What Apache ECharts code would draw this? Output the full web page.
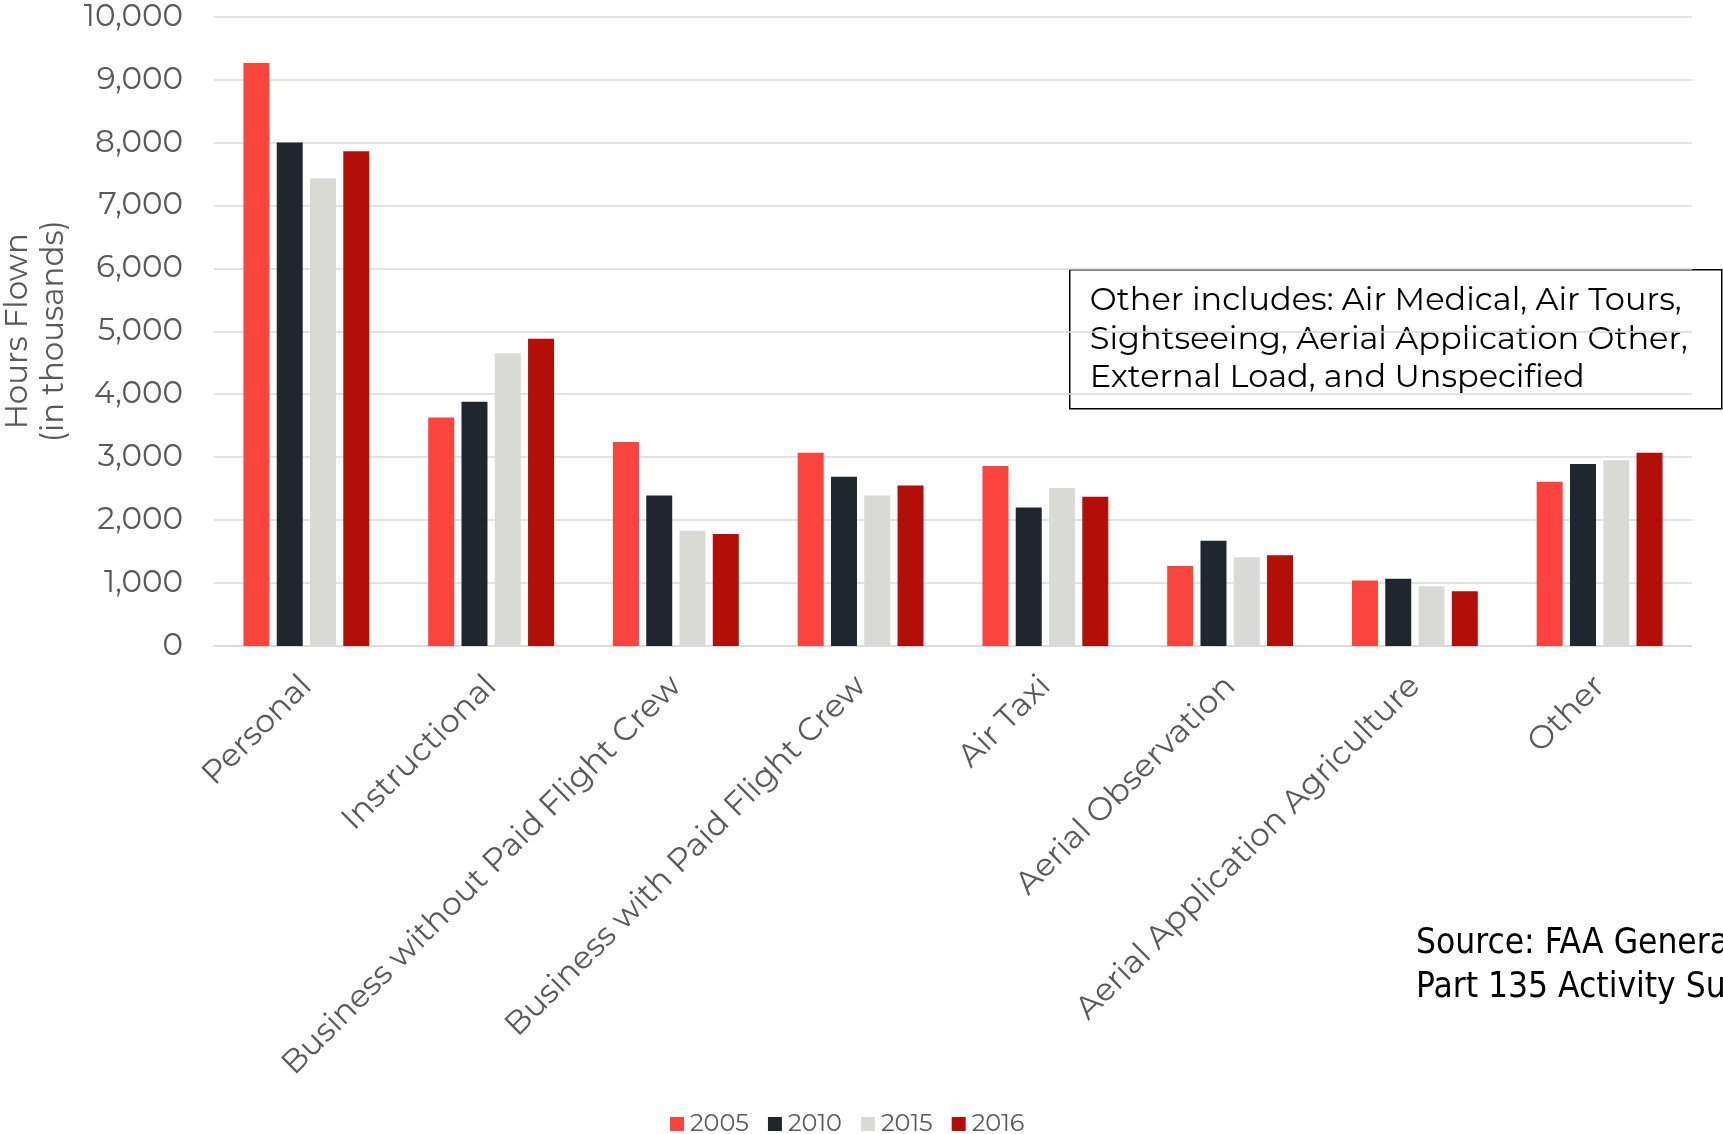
<!DOCTYPE html>
<html>
<head>
<meta charset="utf-8">
<style>
  html, body { margin: 0; padding: 0; background: #ffffff; }
  #chart { width: 1723px; height: 1134px; }
</style>
<script src="https://cdn.jsdelivr.net/npm/echarts@6/dist/echarts.min.js"></script>
</head>
<body>
<div id="chart"></div>
<script>
// General aviation hours flown by use category (thousands of hours)
const categories = [
  'Personal',
  'Instructional',
  'Business without Paid Flight Crew',
  'Business with Paid Flight Crew',
  'Air Taxi',
  'Aerial Observation',
  'Aerial Application Agriculture',
  'Other'
];
const years = ['2005', '2010', '2015', '2016'];
const hours2005 = [9260, 3630, 3240, 3070, 2860, 1270, 1040, 2610];
const hours2010 = [8000, 3880, 2390, 2690, 2200, 1670, 1070, 2890];
const hours2015 = [7430, 4650, 1830, 2390, 2510, 1410, 950, 2950];
const hours2016 = [7860, 4880, 1780, 2550, 2370, 1440, 870, 3070];
const yTicks = { min: 0, max: 10000, interval: 1000 };

const seriesValues = [hours2005, hours2010, hours2015, hours2016];
const colors = ['#FA443D', '#20262D', '#D9D9D5', '#B40E08'];

const axisFont = 'Montserrat, "Open Sans", Lato, sans-serif';
const grey = '#595959';

const chart = echarts.init(document.getElementById('chart'), null, { renderer: 'canvas' });

chart.setOption({
  animation: false,
  backgroundColor: '#ffffff',
  grid: {
    left: 214, right: 31, top: 16.5, bottom: 488,
    containLabel: false,
    outerBoundsMode: 'none'
  },
  legend: {
    data: years,
    bottom: -7,
    left: 665,
    itemWidth: 14,
    itemHeight: 14,
    itemGap: 19,
    icon: 'rect',
    textStyle: { color: grey, fontSize: 24, fontFamily: axisFont, padding: [0, 0, 0, 1] }
  },
  xAxis: {
    type: 'category',
    data: categories,
    axisLine: { show: true, lineStyle: { color: '#D9D9D9', width: 1.5 } },
    axisTick: { show: false },
    axisLabel: {
      interval: 0,
      rotate: 45,
      margin: 35,
      color: grey,
      fontSize: 32,
      fontFamily: axisFont
    }
  },
  yAxis: {
    type: 'value',
    min: yTicks.min,
    max: yTicks.max,
    interval: yTicks.interval,
    name: 'Hours Flown\n(in thousands)',
    nameLocation: 'middle',
    nameRotate: 90,
    nameGap: 142,
    nameTextStyle: { color: grey, fontSize: 31, fontFamily: axisFont, lineHeight: 36 },
    axisLine: { show: false },
    axisTick: { show: false },
    axisLabel: {
      color: grey,
      fontSize: 31,
      fontFamily: axisFont,
      margin: 31,
      formatter: v => v.toLocaleString('en-US')
    },
    splitLine: { lineStyle: { color: '#D9D9D9', width: 1.5 } }
  },
  series: years.map((y, i) => ({
    name: y,
    type: 'bar',
    data: seriesValues[i],
    barWidth: 26,
    barGap: '28%',
    itemStyle: { color: colors[i] }
  })),
  graphic: [
    {
      type: 'group',
      left: 1069,
      top: 269,
      children: [
        {
          type: 'rect',
          shape: { x: 0, y: 0, width: 652, height: 139 },
          style: { fill: '#ffffff', stroke: '#000000', lineWidth: 1.5 }
        },
        {
          type: 'text',
          x: 20,
          y: 12,
          style: {
            text: 'Other includes: Air Medical, Air Tours,\nSightseeing, Aerial Application Other,\nExternal Load, and Unspecified',
            fill: '#000000',
            font: '32px ' + axisFont,
            lineHeight: 38.5
          }
        }
      ]
    },
    {
      type: 'text',
      left: 1416,
      top: 922,
      style: {
        text: 'Source: FAA General Aviation and\nPart 135 Activity Survey',
        fill: '#000000',
        font: '35px "DejaVu Sans Condensed", "Liberation Sans", sans-serif',
        lineHeight: 44
      }
    }
  ]
});
</script>
</body>
</html>
